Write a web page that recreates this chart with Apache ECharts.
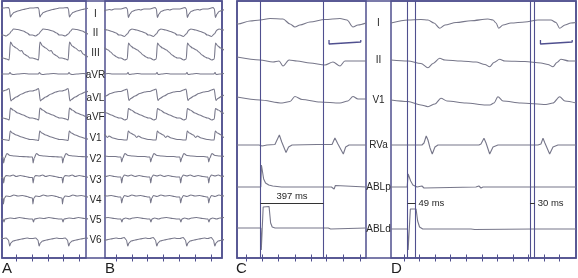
<!DOCTYPE html>
<html><head><meta charset="utf-8">
<script src="https://cdn.jsdelivr.net/npm/echarts@6/dist/echarts.min.js"></script>
<style>html,body{margin:0;padding:0;background:#fff}#c{width:578px;height:278px}</style>
</head><body><div id="c"></div>
<script>
// ---------------- DATA ----------------
// Panels A/B: 12-lead ECG (time in ms, amplitude in trace units)
const leadsAB = ['I','II','III','aVR','aVL','aVF','V1','V2','V3','V4','V5','V6'];
const beatsA = [-277, 103, 482, 862];          // beat reference times (lead I nadir)
const beatsB = [-80, 291, 658, 1037, 1392];
const ticksA = [180, 385, 590, 785, 990];
const ticksB = [140, 340, 540, 740, 940, 1140, 1340];

// beat templates [dt ms, value]
const tplA_I   = [[-90,4],[-20,4.5],[-8,3],[5,-5],[25,-2.5],[50,-0.5],[100,1],[170,2.5],[230,3.5],[255,4]];
const tplA_II  = [[-90,-2],[-50,-3],[-10,-1],[20,2],[45,4],[100,3.5],[170,2],[220,0],[255,-2]];
const tplA_III = [[-90,-6],[-45,-7],[-12,-8],[6,10],[40,6],[80,4],[130,1],[150,1.5],[180,-2],[225,-4],[255,-6]];
const tplA_aVR = [[-90,0],[-15,0],[0,1.5],[15,0],[40,-0.5],[100,0],[180,0.5],[255,0]];
const tplA_aVL = [[-90,4],[-50,5],[-12,6.5],[12,-6],[30,-4.5],[80,-2],[150,1],[210,3],[255,4]];
const tplA_aVF = [[-90,-4],[-40,-5],[-10,-6],[5,6],[40,4],[100,1],[170,-1],[225,-3],[255,-4]];
const tplA_V1  = [[-90,-3.5],[-40,-4],[-12,-4.5],[3,5],[30,3],[80,1],[150,-1],[210,-2.5],[255,-3.5]];
const tplA_V2  = [[-90,0],[-82,-6],[-68,-1],[-40,3.5],[0,1.5],[60,1],[140,0.5],[210,0.3],[255,0]];
const tplA_V3  = [[-90,-0.5],[-82,-6],[-68,0],[-50,1.5],[0,1],[40,2],[80,0.5],[130,1.5],[200,0.5],[255,-0.5]];
const tplA_V4  = [[-90,-1],[-85,-7],[-72,-1],[-50,1],[0,0.5],[50,2],[100,1],[160,1.5],[220,0.5],[255,-0.5]];
const tplA_V5  = [[-90,0],[-78,-3],[-65,0],[0,1],[60,0.5],[120,1.5],[200,0.5],[255,0]];
const tplA_V6  = [[-90,1.5],[-50,2],[-20,0],[-5,-6],[10,-3],[40,-1],[90,0],[150,1],[220,2],[255,1.5]];

const tplB_I   = [[-90,3],[-25,4.5],[-8,3],[4,-5.5],[25,-2],[50,0.5],[100,2],[140,2.5],[160,2],[200,3],[255,3]];
const tplB_II  = [[-90,-2],[-45,-3.5],[-10,-1],[25,3],[50,4],[110,3],[170,1.5],[220,0],[255,-2]];
const tplB_III = [[-90,-6],[-40,-8],[-10,-7],[6,9],[35,6],[70,4],[120,2],[150,0],[190,-3],[230,-5],[255,-6]];
const tplB_aVR = [[-90,0],[-15,0],[0,1.5],[15,-0.5],[60,0],[120,0.5],[180,0],[255,0]];
const tplB_aVL = [[-90,3.5],[-45,5],[-12,6],[12,-5.5],[35,-3.5],[90,-1],[150,1.5],[210,3],[255,3.5]];
const tplB_aVF = [[-90,-4],[-40,-6],[-10,-5],[5,5.5],[40,4],[100,1],[160,-1],[220,-3],[255,-4]];
const tplB_V1  = [[-90,-3.5],[-40,-4],[-12,-4],[3,5],[30,3],[80,1],[110,-1.5],[130,0],[180,-2],[255,-3.5]];
const tplB_V2  = [[-90,0],[-80,-5],[-66,-1],[-40,3.5],[0,1.5],[60,1],[140,0.5],[210,0.5],[255,0]];
const tplB_V3  = [[-90,0],[-80,-6],[-66,0],[-45,2],[0,1],[40,2],[90,0.5],[140,1.5],[200,0.5],[255,0]];
const tplB_V4  = [[-90,0],[-80,-6],[-66,-1],[-45,1.5],[0,0.5],[50,2],[100,1],[160,1.5],[220,0.5],[255,0]];
const tplB_V5  = [[-90,0],[-78,-3],[-64,0],[-30,1],[20,0],[60,1],[120,1.5],[200,0.5],[255,0]];
const tplB_V6  = [[-90,1.5],[-50,2.5],[-20,0],[-3,-6],[12,-3],[40,-1],[90,0],[150,1],[220,2],[255,1.5]];

// Panels C/D: surface leads + intracardiac electrograms
const leadsCD = ['I','II','V1','RVa','ABLp','ABLd'];
const ticksC = [61, 156, 260, 365, 471, 565, 670, 775];
const ticksD = [82, 180, 278, 376, 474, 572, 670, 768, 866, 964, 1062];
const cursorsC = [148, 545];
const cursorsD = [105, 154, 876, 906];
const intervalsC = [{from:148, to:545, ms:397}];
const intervalsD = [{from:105, to:154, ms:49}, {from:876, to:906, ms:30}];
const scaleBarC = {start:580, length:200};
const scaleBarD = {start:942, length:200};

const C_I    = [[0,0],[6,-1],[82,2],[145,3],[208,4.5],[290,4],[334,-1],[365,-4],[397,-2],[460,1],[554,3.5],[649,4.5],[693,3],[731,-4],[762,-2],[813,0]];
const C_II   = [[0,5],[145,2],[227,0],[265,1],[290,-4],[328,2],[378,1],[460,-1],[554,-3],[605,0],[649,-4],[680,1],[725,1],[813,1]];
const C_V1   = [[0,3],[145,0],[284,-3],[334,-1.5],[365,3.5],[410,0.5],[523,-2],[649,-3],[699,-1],[731,3.5],[762,1],[813,1]];
const C_RVa  = [[0,0],[139,0],[148,1.5],[158,-1],[189,0],[239,0.5],[267,10],[282,3],[309,-7.5],[325,-2],[347,0],[504,0.5],[599,0.5],[617,7],[636,1],[670,-9],[685,-2],[706,0],[813,0]];
const C_ABLp = [[0,0],[150,0],[154,22],[160,23],[168,8],[180,4],[200,2],[225,1],[280,0],[595,0],[602,2],[612,-2],[620,1.5],[630,0],[813,0]];
const C_ABLd = [[0,0],[150,0],[153,-22],[160,-22],[165,21],[172,21.5],[202,21.5],[212,5],[222,1],[240,0],[575,0],[582,1],[590,-1],[598,0],[813,0]];

const D_I    = [[0,0],[107,3],[189,3.5],[233,3],[271,0],[307,-5.3],[340,-2],[410,0.5],[504,2.3],[611,4],[643,3],[662,0],[679,-5.3],[706,-2],[756,0],[844,1],[926,3],[1008,3],[1040,0.5],[1063,-5.3],[1096,-2],[1134,0],[1166,0.5]];
const D_II   = [[0,2],[107,1],[189,-1.5],[233,-5.7],[265,-1.5],[307,3.7],[340,2],[441,1],[536,0],[592,-2.5],[622,-4.7],[649,-0.5],[685,2.7],[718,1],[844,0.5],[945,-1],[989,-2.5],[1021,-4.7],[1046,-0.5],[1071,2.7],[1121,1],[1166,1]];
const D_V1   = [[0,2],[107,0.5],[189,-3],[233,-4.7],[277,-2],[315,3.7],[353,1],[473,-1],[599,-3],[624,-3],[649,-1],[674,5.3],[706,1],[819,-1],[977,-2.5],[1021,-1],[1063,5.3],[1096,1],[1166,-1]];
const D_RVa  = [[0,0],[195,0],[208,2],[222,9],[233,5],[246,-3],[260,-9],[277,-2],[296,0],[554,0],[567,1],[586,6.7],[599,2],[622,-9],[643,-2],[674,0],[926,0],[945,1],[958,6.7],[970,2],[1000,-9],[1021,-2],[1052,0],[1166,0]];
const D_ABLp = [[0,0],[102,0],[108,13],[114,14],[124,6],[138,2],[164,0],[195,1],[208,-1],[220,0],[535,0],[554,1],[567,-1],[580,0],[1166,0]];
const D_ABLd = [[0,0],[104,0],[108,-21],[116,-21],[122,20],[130,20.5],[158,20],[168,8],[180,2],[200,0],[504,0],[516,1.5],[528,-0.5],[540,0],[900,0],[905,1.5],[912,0],[1166,0]];

// ---------------- LAYOUT / STYLE ----------------
const FRAME = '#50508f', TRACE = '#77778a', TEXT = '#262626';
const FONT = '"Liberation Sans", Arial, sans-serif';
const TOP = 1, H = 257, HALF = 40;
const panels = {
  A:{left:2,   width:84,  max:1080, ticks:ticksA},
  B:{left:105, width:117, max:1480, ticks:ticksB},
  C:{left:237, width:129, max:813,  ticks:ticksC},
  D:{left:391, width:185, max:1166, ticks:ticksD}
};
const baseAB = [12,33,52,74,95,114,136,157,177,197,219,240];
const labelYAB = [14,33,53,75,98,117,138,159,180,200,220,240];
const baseC = [23,62,100,145,187,228];
const baseD = [23,62,102,145,187,229];
const labelYCD = [23,60,100,145,187,229];
const smoothCD = [0.3,0.3,0.3,0,0,0];

const tracesA = [tplA_I,tplA_II,tplA_III,tplA_aVR,tplA_aVL,tplA_aVF,tplA_V1,tplA_V2,tplA_V3,tplA_V4,tplA_V5,tplA_V6];
const tracesB = [tplB_I,tplB_II,tplB_III,tplB_aVR,tplB_aVL,tplB_aVF,tplB_V1,tplB_V2,tplB_V3,tplB_V4,tplB_V5,tplB_V6];
const tracesC = [C_I,C_II,C_V1,C_RVa,C_ABLp,C_ABLd];
const tracesD = [D_I,D_II,D_V1,D_RVa,D_ABLp,D_ABLd];

function beatTrace(beats, tpl){
  const out = [];
  beats.forEach(b => tpl.forEach(p => out.push([b + p[0], p[1]])));
  return out;
}

const grid = [], xAxis = [], yAxis = [], series = [];
function addGrid(g){ g.outerBoundsMode = 'none'; g.containLabel = false; grid.push(g); return grid.length - 1; }

// outer frames
[[2,220],[237,339]].forEach(([l,w]) => {
  const gi = addGrid({left:l, top:TOP, width:w, height:H, show:true, borderColor:FRAME, borderWidth:1.5, backgroundColor:'transparent'});
  xAxis.push({gridIndex:gi, type:'value', min:0, max:1, show:false});
  yAxis.push({gridIndex:gi, type:'value', min:0, max:1, show:false});
});

const panelGrid = {};
Object.keys(panels).forEach(k => {
  const p = panels[k];
  const gi = addGrid({left:p.left, top:TOP, width:p.width, height:H, show:true, borderColor:FRAME, borderWidth:1.5, backgroundColor:'transparent'});
  panelGrid[k] = gi;
  ['top','bottom'].forEach(pos => {
    xAxis.push({gridIndex:gi, type:'value', min:0, max:p.max, position:pos,
      axisLine:{show:false}, splitLine:{show:false}, axisLabel:{show:false},
      axisTick:{show:true, inside:true, length:3.5, customValues:p.ticks, lineStyle:{color:FRAME, width:1}}});
  });
  yAxis.push({gridIndex:gi, type:'value', min:0, max:1, show:false});
});

function xIndexOfGrid(gi){ return xAxis.findIndex(a => a.gridIndex === gi); }
function yIndexOfGrid(gi){ return yAxis.findIndex(a => a.gridIndex === gi); }

// cursor lines
[['C',cursorsC],['D',cursorsD]].forEach(([k,cur]) => {
  const gi = panelGrid[k];
  series.push({type:'line', xAxisIndex:xIndexOfGrid(gi), yAxisIndex:yIndexOfGrid(gi),
    data:[[0,0]], showSymbol:false, lineStyle:{opacity:0}, silent:true, z:5,
    markLine:{symbol:'none', silent:true, animation:false, label:{show:false},
      lineStyle:{color:FRAME, width:1.1, type:'solid'}, emphasis:{disabled:true},
      data:cur.map(v => ({xAxis:v}))}});
});

function addStrip(k, base, data, smooth){
  const p = panels[k];
  const gi = addGrid({left:p.left, top:base - HALF, width:p.width, height:2*HALF, show:false});
  xAxis.push({gridIndex:gi, type:'value', min:0, max:p.max, show:false});
  yAxis.push({gridIndex:gi, type:'value', min:-HALF, max:HALF, show:false});
  const s = {type:'line', xAxisIndex:xAxis.length-1, yAxisIndex:yAxis.length-1, data:data,
    showSymbol:false, symbol:'none', clip:true, silent:true, z:3,
    smooth:smooth || false, smoothMonotone:'x',
    lineStyle:{color:TRACE, width:1.1}};
  series.push(s);
  return s;
}

leadsAB.forEach((n,i) => { addStrip('A', baseAB[i], beatTrace(beatsA, tracesA[i]), 0.3); });
leadsAB.forEach((n,i) => { addStrip('B', baseAB[i], beatTrace(beatsB, tracesB[i]), 0.3); });

const stripsC = leadsCD.map((n,i) => addStrip('C', baseC[i], tracesC[i], smoothCD[i]));
const stripsD = leadsCD.map((n,i) => addStrip('D', baseD[i], tracesD[i], smoothCD[i]));

// interval annotations (on ABLp strips, line level 16 units below baseline)
const ANN_LEVEL = -16;
function intervalMarks(list, pos){
  return {symbol:'none', silent:true, animation:false,
    lineStyle:{color:'#333', width:1, type:'solid'},
    label:{show:true, position:pos, distance:pos === 'end' ? 3 : 2, color:TEXT, fontSize:9.5, fontFamily:FONT,
           formatter:(prm) => prm.data && prm.data.name ? prm.data.name : ''},
    data:list.map(iv => [{coord:[iv.from, ANN_LEVEL], name: iv.ms + ' ms'}, {coord:[iv.to, ANN_LEVEL]}])};
}
stripsC[4].markLine = intervalMarks(intervalsC, 'insideMiddleTop');
stripsD[4].markLine = intervalMarks(intervalsD, 'end');

// scale bars (in lead I strips, 19 units below baseline)
const BAR_LEVEL = -19, BAR_TICK = 2;
[[stripsC[0], scaleBarC],[stripsD[0], scaleBarD]].forEach(([s, sb]) => {
  const a = sb.start, b = sb.start + sb.length;
  series.push({type:'line', xAxisIndex:s.xAxisIndex, yAxisIndex:s.yAxisIndex,
    data:[[a,BAR_LEVEL+BAR_TICK],[a,BAR_LEVEL-BAR_TICK],[a,BAR_LEVEL],[b,BAR_LEVEL],[b,BAR_LEVEL+BAR_TICK],[b,BAR_LEVEL-BAR_TICK]],
    showSymbol:false, symbol:'none', silent:true, lineStyle:{color:FRAME, width:1.3}, z:4});
});

// text labels
const graphic = [];
leadsAB.forEach((n,i) => graphic.push({type:'text', x:95.5, y:labelYAB[i], silent:true, z:10,
  style:{text:n, align:'center', verticalAlign:'middle', fill:TEXT, font:'10px ' + FONT}}));
leadsCD.forEach((n,i) => graphic.push({type:'text', x:378.5, y:labelYCD[i], silent:true, z:10,
  style:{text:n, align:'center', verticalAlign:'middle', fill:TEXT, font:'10px ' + FONT}}));
[['A',2],['B',105],['C',236],['D',391]].forEach(([t,x]) => graphic.push({type:'text', x:x, y:269, silent:true,
  style:{text:t, align:'left', verticalAlign:'middle', fill:'#1e1e1e', font:'15px ' + FONT}}));

const chart = echarts.init(document.getElementById('c'), null, {renderer:'canvas'});
chart.setOption({animation:false, backgroundColor:'#fff', grid, xAxis, yAxis, series, graphic});
</script></body></html>
